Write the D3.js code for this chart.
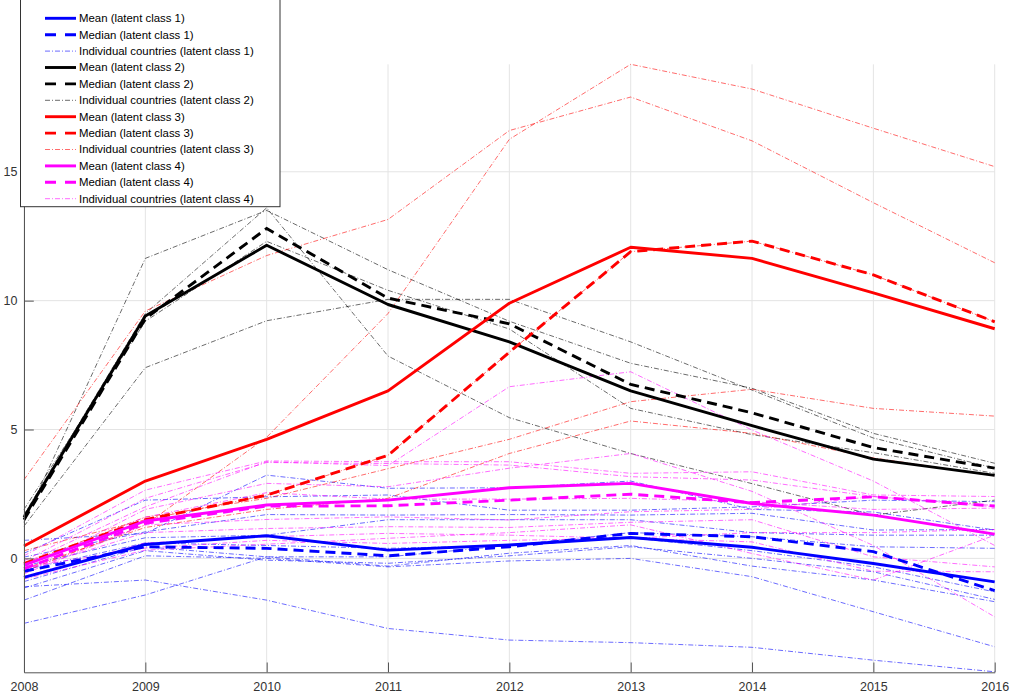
<!DOCTYPE html>
<html><head><meta charset="utf-8">
<script src="https://cdn.jsdelivr.net/npm/d3@7"></script>
<style>body{margin:0;background:#fff} svg{display:block}</style>
</head><body>
<svg id="c" width="1012" height="698"></svg>
<script>
// ---------------- data ----------------
const years = [2008, 2009, 2010, 2011, 2012, 2013, 2014, 2015, 2016];
const yTicks = [0, 5, 10, 15];

// latent class 1 (blue)
const meanClass1   = [-0.74, 0.54, 0.88, 0.32, 0.52, 0.81, 0.43, -0.2, -0.91];
const medianClass1 = [-0.5, 0.45, 0.39, 0.1, 0.45, 0.97, 0.84, 0.26, -1.25];
const countriesClass1 = [
  [0.7, 0.97, 3.23, 2.72, 2.74, 3.0, 1.9, 1.8, 1.1],
  [0.2, 2.26, 2.39, 2.46, 1.87, 1.87, 2.0, 2.26, 2.2],
  [0.05, 1.03, 1.7, 1.68, 1.7, 1.68, 1.75, 1.1, 1.12],
  [-0.3, 0.8, 0.9, 1.5, 1.5, 1.5, 1.0, 0.9, 0.9],
  [-0.45, 0.6, 0.5, 0.39, 0.5, 1.0, 0.84, 0.45, 0.39],
  [-0.9, 0.45, 0.06, 0.06, 0.5, 0.8, 0.3, -0.33, -1.3],
  [-1.15, 0.3, -0.07, -0.19, 0.1, 0.45, 0.0, -0.52, -1.59],
  [-1.62, 0.1, 0.0, -0.33, -0.1, 0.0, -0.71, -2.07, -3.43],
  [-2.52, -1.42, 0.06, -0.3, 0.2, 0.5, -0.3, -0.84, -1.68],
  [-1.1, -0.84, -1.62, -2.72, -3.17, -3.27, -3.45, -3.95, -4.4]
];

// latent class 2 (black)
const meanClass2   = [1.6, 9.4, 12.15, 9.85, 8.4, 6.5, 5.15, 3.85, 3.22];
const medianClass2 = [1.5, 9.3, 12.8, 10.1, 9.1, 6.75, 5.65, 4.3, 3.5];
const countriesClass2 = [
  [1.4, 11.64, 13.5, 11.2, 9.2, 7.57, 6.6, 4.85, 3.69],
  [1.7, 9.5, 13.6, 7.85, 5.46, 4.07, 2.9, 1.68, 2.26],
  [1.25, 7.4, 9.22, 10.05, 10.05, 8.4, 6.53, 4.67, 3.5],
  [1.9, 9.2, 12.3, 10.4, 8.9, 5.82, 4.8, 4.1, 3.3]
];

// latent class 3 (red)
const meanClass3   = [0.48, 3.0, 4.62, 6.5, 9.9, 12.07, 11.64, 10.3, 8.91];
const medianClass3 = [-0.2, 1.5, 2.45, 4.0, 8.0, 11.9, 12.31, 11.0, 9.18];
const countriesClass3 = [
  [-0.5, 1.3, 4.7, 9.5, 16.26, 19.17, 18.21, 16.69, 15.2],
  [3.05, 9.6, 11.75, 13.15, 16.6, 17.9, 16.2, 13.8, 11.47],
  [-0.2, 1.6, 2.33, 3.48, 4.62, 6.08, 6.56, 5.82, 5.52],
  [-0.4, 1.2, 1.9, 2.33, 4.07, 5.33, 4.85, 3.9, 3.2],
  [0.3, 1.5, 2.45, 4.0, 8.0, 11.9, 12.31, 11.0, 9.18]
];

// latent class 4 (magenta)
const meanClass4   = [-0.26, 1.45, 2.07, 2.26, 2.74, 2.91, 2.13, 1.68, 0.94];
const medianClass4 = [-0.4, 1.36, 2.03, 2.04, 2.26, 2.49, 2.16, 2.39, 2.03];
const countriesClass4 = [
  [-0.2, 2.0, 3.75, 3.6, 6.66, 7.24, 4.98, 3.0, 0.5],
  [0.1, 2.65, 3.78, 3.75, 3.75, 3.3, 3.36, 2.46, 2.4],
  [-0.1, 2.33, 3.72, 3.68, 3.62, 3.17, 3.04, 2.4, 2.0],
  [-0.5, 1.9, 2.91, 2.78, 3.5, 4.07, 2.6, 0.5, -2.27],
  [-0.3, 1.6, 2.55, 2.3, 2.3, 2.33, 2.2, 1.9, 1.95],
  [-0.6, 1.3, 1.51, 1.61, 1.49, 1.81, 1.9, 2.4, 2.05],
  [-0.45, 1.0, 1.16, 1.23, 1.2, 1.4, 1.5, 0.06, -0.33],
  [-0.7, 0.6, 0.84, 0.97, 0.9, 0.78, 0.64, -0.5, -0.52],
  [-0.8, 0.32, 0.55, 0.78, 1.0, 1.3, 0.19, -0.84, 0.9],
  [-0.35, 0.4, 0.7, 0.58, 0.7, 0.78, 1.0, 1.0, 1.12]
];

const classColors = ["#0000ff", "#000000", "#ff0000", "#ff00ff"];
const legendLabels = [
  "Mean (latent class 1)", "Median (latent class 1)", "Individual countries (latent class 1)",
  "Mean (latent class 2)", "Median (latent class 2)", "Individual countries (latent class 2)",
  "Mean (latent class 3)", "Median (latent class 3)", "Individual countries (latent class 3)",
  "Mean (latent class 4)", "Median (latent class 4)", "Individual countries (latent class 4)"
];

// ---------------- drawing ----------------
const classes = [
  {mean: meanClass1, median: medianClass1, countries: countriesClass1},
  {mean: meanClass2, median: medianClass2, countries: countriesClass2},
  {mean: meanClass3, median: medianClass3, countries: countriesClass3},
  {mean: meanClass4, median: medianClass4, countries: countriesClass4}
];

const svg = d3.select("#c");
const X0 = 24, X1 = 994.7, Y0 = 672.3, Y1 = 64.3;
const x = d3.scaleLinear().domain([2008, 2016]).range([X0, X1]);
const y = d3.scaleLinear().domain([-4.42, 19.17]).range([Y0, Y1]);

const styles = {
  mean:    {w: 2.9, dash: null, op: 1},
  median:  {w: 2.9, dash: "10,6", op: 1},
  country: {w: 1, dash: "5,2,1,2", op: 0.58}
};

// grid
const grid = svg.append("g");
grid.selectAll(".gx").data(years).join("line")
  .attr("x1", d => x(d)).attr("x2", d => x(d)).attr("y1", Y1).attr("y2", Y0)
  .attr("stroke", "#e4e4e4").attr("stroke-width", 1);
grid.selectAll(".gy").data(yTicks).join("line")
  .attr("x1", X0).attr("x2", X1).attr("y1", d => y(d)).attr("y2", d => y(d))
  .attr("stroke", "#e4e4e4").attr("stroke-width", 1);

const line = d3.line().x((d, i) => x(years[i])).y(d => y(d));

// individual countries
classes.forEach((c, ci) => {
  svg.append("g").selectAll("path").data(c.countries).join("path")
    .attr("d", line).attr("fill", "none")
    .attr("stroke", classColors[ci]).attr("stroke-opacity", styles.country.op)
    .attr("stroke-width", styles.country.w).attr("stroke-dasharray", styles.country.dash);
});
// means and medians
classes.forEach((c, ci) => {
  svg.append("path").datum(c.mean).attr("d", line).attr("fill", "none")
    .attr("stroke", classColors[ci]).attr("stroke-width", styles.mean.w)
    .attr("stroke-linejoin", "round");
  svg.append("path").datum(c.median).attr("d", line).attr("fill", "none")
    .attr("stroke", classColors[ci]).attr("stroke-width", styles.median.w)
    .attr("stroke-dasharray", styles.median.dash);
});

// axes
const axisColor = "#333";
const xAxis = d3.axisBottom(x).tickValues(years).tickFormat(d3.format("d"))
  .tickSizeInner(-9.8).tickSizeOuter(0).tickPadding(10);
const yAxis = d3.axisLeft(y).tickValues(yTicks).tickFormat(d3.format("d"))
  .tickSizeInner(-9.8).tickSizeOuter(0).tickPadding(6.5);

function styleAxis(g) {
  g.selectAll("path.domain").attr("stroke", "#555").attr("stroke-width", 1);
  g.selectAll(".tick line").attr("stroke", "#555").attr("stroke-width", 1);
  g.selectAll(".tick text").attr("fill", axisColor)
    .style("font-family", "'Liberation Sans', Arial, sans-serif").style("font-size", "12.5px");
}
svg.append("g").attr("transform", `translate(0,${Y0})`).call(xAxis).call(styleAxis);
svg.append("g").attr("transform", `translate(${X0},0)`).call(yAxis).call(styleAxis);

// legend
const lg = svg.append("g");
lg.append("rect").attr("x", 20.5).attr("y", -2).attr("width", 259.5).attr("height", 208.7)
  .attr("fill", "#fff").attr("stroke", "#333").attr("stroke-width", 1);
const rowY0 = 18.3, rowStep = 16.4;
legendLabels.forEach((lab, i) => {
  const ci = Math.floor(i / 3), kind = i % 3;
  const st = kind === 0 ? styles.mean : kind === 1 ? styles.median : styles.country;
  const yy = rowY0 + i * rowStep;
  lg.append("line").attr("x1", 45).attr("x2", 76).attr("y1", yy).attr("y2", yy)
    .attr("stroke", classColors[ci]).attr("stroke-opacity", st.op)
    .attr("stroke-width", st.w).attr("stroke-dasharray", kind === 1 ? "11,9" : st.dash);
  lg.append("text").attr("x", 79).attr("y", yy).attr("dy", "0.35em")
    .style("font-family", "'Liberation Sans', Arial, sans-serif").style("font-size", "11.4px")
    .attr("fill", "#000").text(lab);
});
</script>
</body></html>
